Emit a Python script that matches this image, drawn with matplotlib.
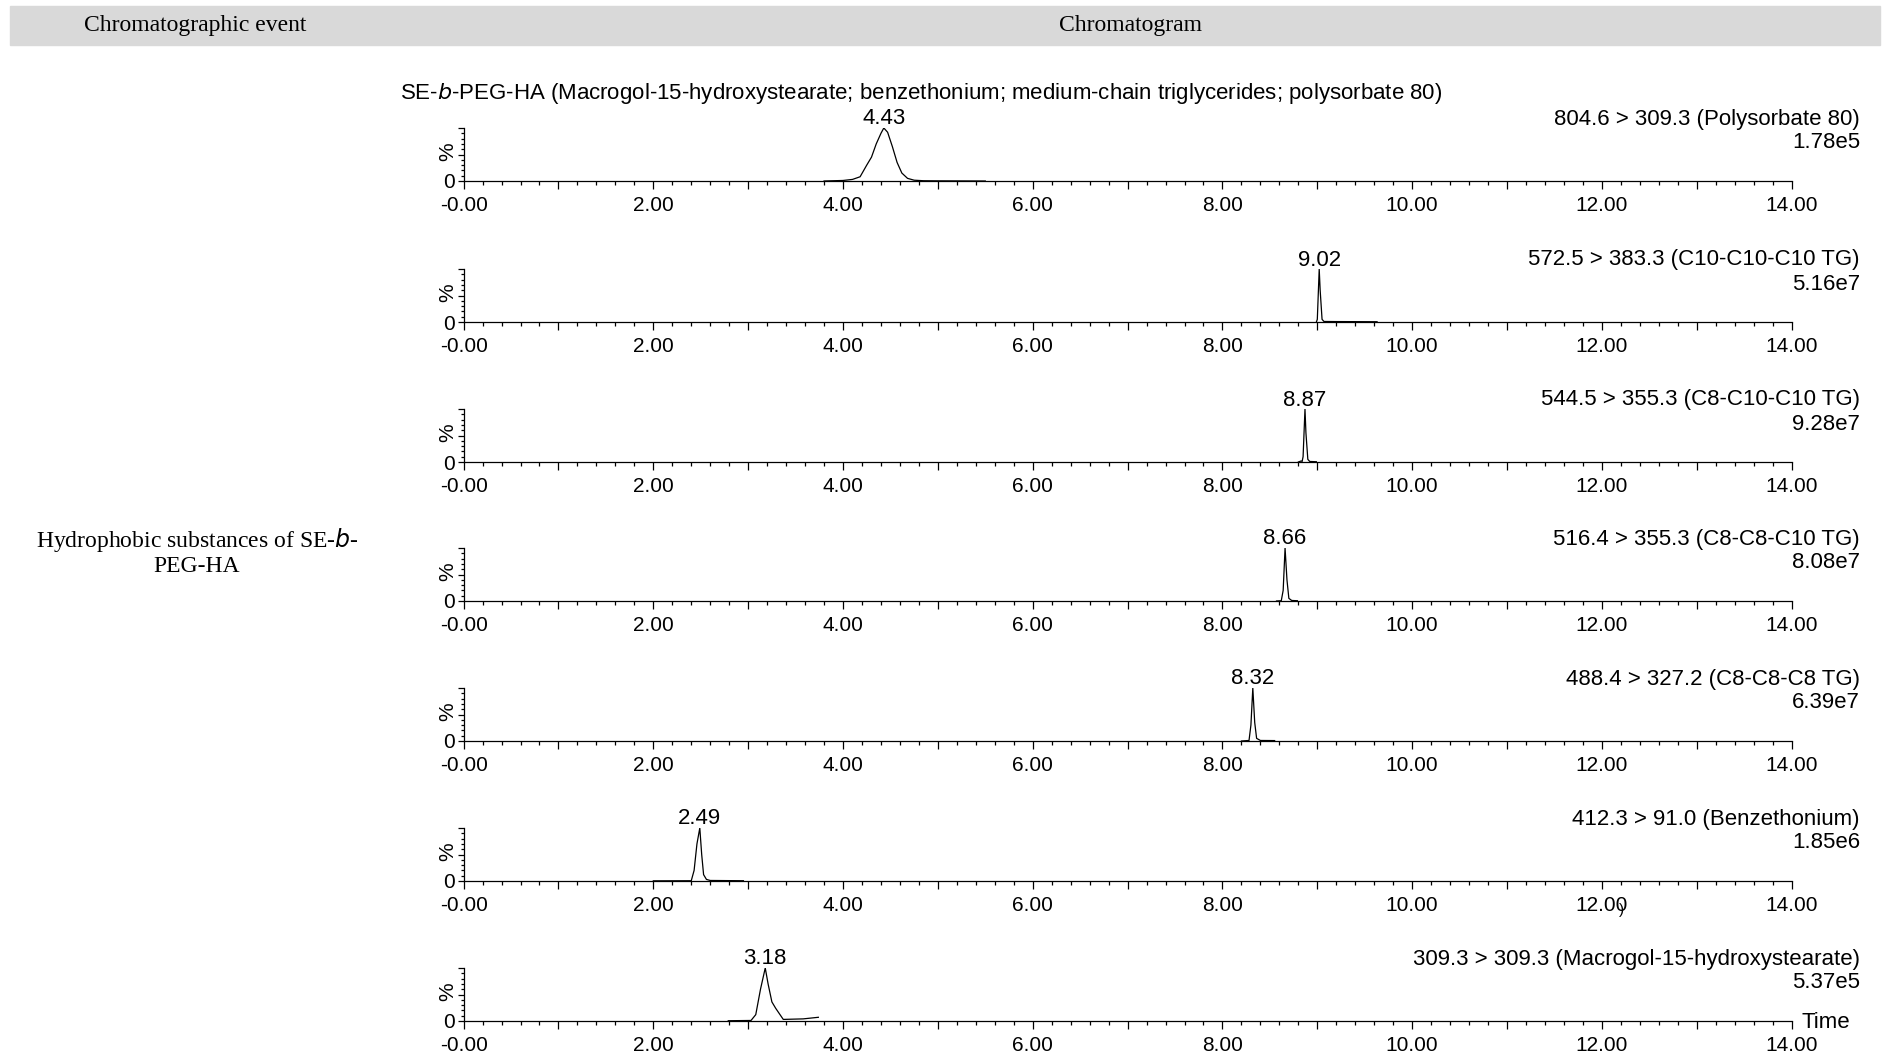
import numpy as np
import matplotlib
matplotlib.use("Agg")
import matplotlib.pyplot as plt
from matplotlib.patches import Rectangle

# data -------------------------------------------------------
peak_rt = [4.43, 9.02, 8.87, 8.66, 8.32, 2.49, 3.18]
transitions = ["804.6 > 309.3 (Polysorbate 80)",
               "572.5 > 383.3 (C10-C10-C10 TG)",
               "544.5 > 355.3 (C8-C10-C10 TG)",
               "516.4 > 355.3 (C8-C8-C10 TG)",
               "488.4 > 327.2 (C8-C8-C8 TG)",
               "412.3 > 91.0 (Benzethonium)",
               "309.3 > 309.3 (Macrogol-15-hydroxystearate)"]
intensities = ["1.78e5", "5.16e7", "9.28e7", "8.08e7", "6.39e7", "1.85e6", "5.37e5"]

t1 = [3.80, 4.00, 4.10, 4.18, 4.25, 4.30, 4.35, 4.40, 4.43, 4.47, 4.52, 4.57, 4.62, 4.68, 4.75, 4.85, 5.00, 5.50]
y1 = [0, 1, 3, 8, 30, 45, 70, 90, 100, 92, 65, 35, 15, 5, 1.5, 0.5, 0.3, 0]
t2 = [8.99, 9.00, 9.02, 9.03, 9.05, 9.07, 9.20, 9.63]
y2 = [0, 5, 100, 60, 5, 1, 0.8, 0.5]
t3 = [8.80, 8.83, 8.84, 8.85, 8.87, 8.88, 8.90, 8.92, 8.99]
y3 = [0, 2, 1, 10, 100, 55, 5, 1, 0.5]
t4 = [8.57, 8.62, 8.64, 8.66, 8.68, 8.70, 8.73, 8.79]
y4 = [0, 0.5, 20, 100, 40, 5, 1, 0.5]
t5 = [8.20, 8.28, 8.30, 8.32, 8.34, 8.36, 8.40, 8.55]
y5 = [0, 1, 30, 100, 35, 5, 1, 0.8]
t6 = [2.00, 2.40, 2.43, 2.46, 2.49, 2.51, 2.53, 2.56, 2.60, 2.95]
y6 = [0.3, 0.5, 20, 70, 100, 50, 12, 3, 1, 0.5]
t7 = [2.79, 3.03, 3.08, 3.13, 3.18, 3.21, 3.25, 3.29, 3.37, 3.58, 3.74]
y7 = [0.5, 1, 12, 60, 100, 70, 36, 24, 3, 4, 7]

traces = [(t1, y1), (t2, y2), (t3, y3), (t4, y4), (t5, y5), (t6, y6), (t7, y7)]
xtick_labels = ["-0.00", "2.00", "4.00", "6.00", "8.00", "10.00", "12.00", "14.00"]

# layout (pixels) ---------------------------------------------
W, H = 1893, 1056
x0, x1 = 463.6, 1791.6
baselines = [181, 322, 462, 601, 741, 881, 1021]
ax_h = 53
sans = "Liberation Sans"
serif = "Liberation Serif"
fs = 16      # labels
fs_tick = 15  # tick labels

def fx(x):
    return x / W

def fy(y):
    return 1 - y / H

fig = plt.figure(figsize=(W / 100, H / 100), dpi=100)

# header band
fig.patches.append(Rectangle((fx(10), fy(45)), fx(1880) - fx(10), fy(6) - fy(45),
                             transform=fig.transFigure, color="#d9d9d9", zorder=0))
fig.text(fx(195), fy(25), "Chromatographic event", family=serif, fontsize=17,
         ha="center", va="center")
fig.text(fx(1130), fy(25), "Chromatogram", family=serif, fontsize=17,
         ha="center", va="center")

fig.text(fx(197), fy(540), "Hydrophobic substances of SE-$\\it{b}$-", family=serif,
         fontsize=17, ha="center", va="center")
fig.text(fx(197), fy(566), "PEG-HA", family=serif, fontsize=17, ha="center", va="center")

fig.text(fx(400), fy(93), "SE-$\\it{b}$-PEG-HA (Macrogol-15-hydroxystearate; benzethonium; "
         "medium-chain triglycerides; polysorbate 80)", family=sans, fontsize=fs,
         ha="left", va="center")

for i, (t, y) in enumerate(traces):
    b = baselines[i]
    ax = fig.add_axes([fx(x0), fy(b), fx(x1) - fx(x0), ax_h / H])
    ax.plot(t, y, color="black", lw=0.9)
    ax.set_xlim(0, 14)
    ax.set_ylim(0, 100)
    ax.patch.set_alpha(0)
    for s in ["top", "right"]:
        ax.spines[s].set_visible(False)
    for s in ["left", "bottom"]:
        ax.spines[s].set_linewidth(0.9)
    ax.set_xticks(np.arange(0, 15, 1))
    ax.set_xticklabels([xtick_labels[k // 2] if k % 2 == 0 else "" for k in range(15)],
                       family=sans, fontsize=fs_tick)
    ax.set_xticks(np.arange(0, 14.01, 0.2), minor=True)
    ax.tick_params(axis="x", which="major", length=6, width=0.9, pad=4.5)
    ax.tick_params(axis="x", which="minor", length=3, width=0.9)
    ax.set_yticks([0, 50, 100])
    ax.set_yticklabels(["0", "", ""], family=sans, fontsize=fs_tick)
    ax.set_yticks(np.arange(0, 101, 10), minor=True)
    ax.tick_params(axis="y", which="major", length=4, width=0.9, pad=2)
    ax.tick_params(axis="y", which="minor", length=2, width=0.9)
    ax.text(-16 / (x1 - x0), 0.55, "%", transform=ax.transAxes, rotation=90,
            family=sans, fontsize=fs_tick, ha="center", va="center")

    ax.annotate(f"{peak_rt[i]:.2f}", xy=(peak_rt[i], 0), xycoords="data",
                xytext=(0, 62 * 0.72), textcoords="offset points",
                ha="center", va="center", family=sans, fontsize=fs)
    fig.text(fx(1860), fy(b - 62), transitions[i], family=sans, fontsize=fs,
             ha="right", va="center")
    fig.text(fx(1860), fy(b - 38), intensities[i], family=sans, fontsize=fs,
             ha="right", va="center")
    if i == 5:
        ax.annotate(")", xy=(12.0, 0), xycoords="data", xytext=(14, -21),
                    textcoords="offset points", ha="center", va="center",
                    family=sans, fontsize=11)

fig.text(fx(1801), fy(1023), "Time", family=sans, fontsize=fs, ha="left", va="center")

fig.savefig("out.png", dpi=100)
